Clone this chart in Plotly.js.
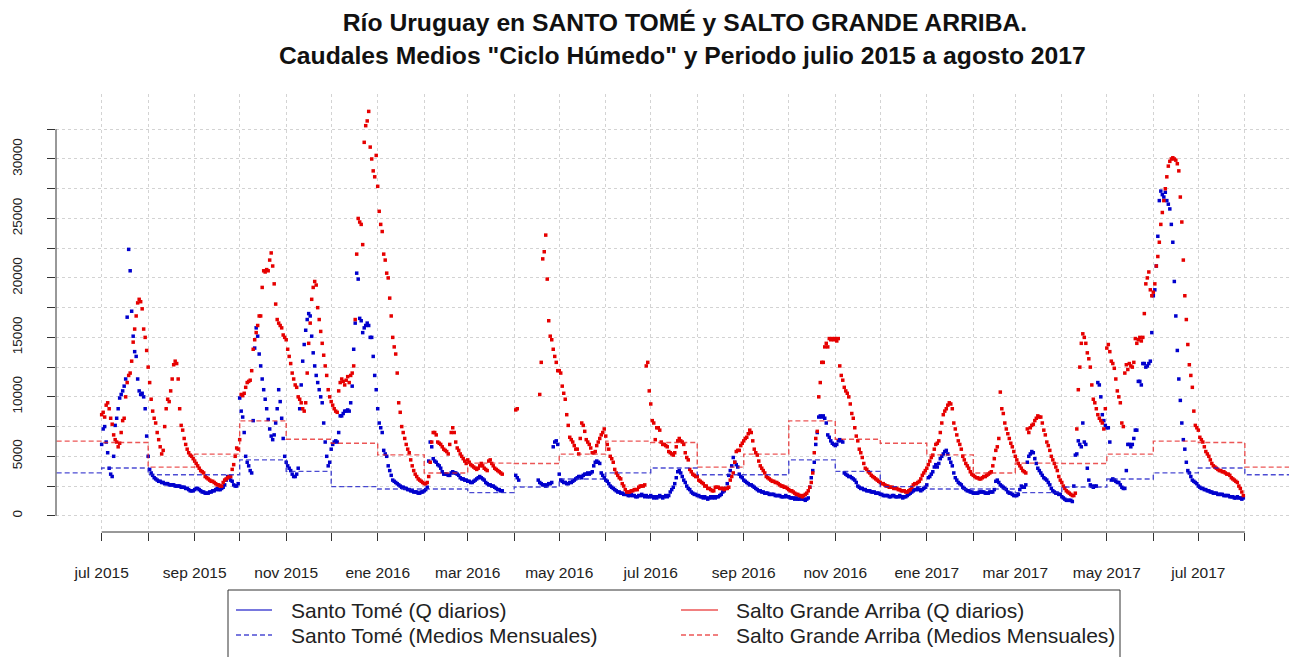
<!DOCTYPE html>
<html><head><meta charset="utf-8">
<script src="https://cdn.plot.ly/plotly-3.0.1.min.js"></script>
<style>html,body{margin:0;padding:0;background:#fff}#chart{width:1293px;height:657px}</style>
</head><body><div id="chart"></div>
<script>
// Daily discharge (m3/s), one value per day starting at startDate
const startDate = '2015-07-01';

const santoTomeQ = [
6000,7300,7500,6200,5300,4000,3500,3300,5000,7600,
8200,9000,9900,10200,10500,10900,11500,16700,22400,20600,
17200,15100,13800,13400,11500,10500,10200,10300,10000,9000,
6700,5000,3900,3600,3400,3200,3100,3000,2900,2900,
2800,2800,2700,2700,2700,2600,2600,2600,2600,2500,
2500,2500,2500,2400,2400,2400,2300,2300,2200,2100,
2100,2100,2200,2300,2300,2200,2100,2000,2000,1900,
1900,1900,2000,2000,2100,2100,2200,2300,2200,2200,
2300,2400,2600,3000,3300,3200,3000,2900,2600,2500,
2500,2700,9900,8800,8300,7000,5000,4500,4200,3800,
3600,8000,14100,15800,15100,13600,12600,11500,10600,9800,
9000,8100,7300,6700,6400,6800,7800,9000,10600,9600,
8200,6500,5000,4500,4200,4000,3800,3500,3300,3300,
3500,4000,9000,11000,13000,14400,15600,16500,17000,16800,
15100,13700,12600,11800,11200,10600,10000,9500,7800,6200,
5000,4200,4500,5600,6000,6200,6300,6200,7000,8400,
8400,8600,8800,8800,8900,8800,9500,10900,14000,16200,
20400,19900,16600,16400,15400,15800,16000,16200,16000,15000,
15000,13400,11800,10600,9000,7800,7400,7000,5500,5200,
5000,4200,3800,3400,3000,2900,2800,2700,2600,2500,
2400,2400,2300,2300,2200,2200,2100,2100,2000,2000,
2000,1900,1900,2000,2000,2100,2200,2400,4600,6200,
5800,4800,4600,4500,4300,4200,4000,3700,3500,3500,
3500,3400,3400,3600,3700,3600,3600,3500,3400,3200,
3100,3100,3000,3000,2900,2900,2800,2800,2900,3000,
3100,3200,3300,3200,3100,3000,2800,2700,2600,2600,
2500,2500,2400,2300,2200,2200,2100,2100,null,null,
null,null,null,null,null,null,3400,3200,3000,null,
null,null,null,null,null,null,null,null,null,null,
null,3000,2800,2700,2600,2600,2500,2600,2700,2700,
2800,5800,6200,6300,6000,3500,3000,2900,2800,2800,
2700,2700,2800,2800,2900,3000,3100,3200,3300,3300,
3200,3400,3500,3500,3600,3500,3600,3700,4200,4500,
4600,4500,4400,3600,3400,3200,3000,2900,2700,2500,
2400,2300,2200,2100,2000,2000,1900,1900,1800,1800,
1800,1700,1700,1800,1700,1700,1600,1600,1700,1700,
1800,1700,1600,1700,1600,1600,1700,1600,1500,1600,
1500,1600,1700,1600,1500,1600,1700,1600,1700,2000,
2200,2400,2700,3200,3700,3800,3600,3300,3000,2800,
2500,2300,2200,2000,1900,1800,1800,1700,1700,1600,
1600,1500,1600,1500,1400,1500,1600,1500,1600,1500,
1600,1600,1700,1800,2000,2100,2300,2700,3400,3800,
4200,4900,4500,4300,4100,3500,3300,3200,3000,2900,
2800,2700,2600,2600,2500,2400,2300,2200,2100,2100,
2000,2000,1900,1900,1900,1800,1800,1800,1800,1700,
1700,1700,1700,1600,1600,1600,1700,1600,1600,1500,
1500,1500,1400,1500,1400,1400,1500,1400,1400,1300,
1400,1500,2400,3200,3800,4500,6000,7000,8300,8400,
8300,8400,8200,7800,6800,6600,6300,6100,6000,5900,
6000,6300,6400,6300,6200,3600,3500,3400,3300,3300,
3200,3100,3000,2800,2500,2400,2300,2300,2200,2200,
2100,2100,2100,2000,2000,2000,1900,1900,1900,1800,
1800,1700,1700,1700,1700,1600,1600,1700,1700,1600,
1600,1600,1700,1600,1500,1600,1600,1700,1800,1900,
2000,2100,2200,2200,2300,2200,2100,2200,2300,2400,
2600,3200,3300,3500,3700,4100,4300,4100,4400,4800,
5000,5200,5400,5500,5200,4800,4500,4200,3600,3200,
3000,2800,2700,2600,2400,2300,2200,2100,2100,2000,
2000,1900,1900,1900,1900,2000,2000,2000,2000,1900,
1900,1900,2000,2000,2000,2200,2900,3000,2800,2600,
2500,2400,2300,2200,2000,1900,1900,1800,1700,1700,
1700,1800,2200,2500,2400,2400,2600,4500,5000,5200,
5400,5300,4800,4400,4000,3800,3600,3400,3200,3100,
3000,2800,2600,2300,2100,2000,1900,1900,1800,1800,
1600,1500,1400,1300,1300,1300,1300,1200,2500,5100,
5200,6300,6000,5800,7800,6200,6000,4000,3000,2600,
2500,2400,2500,2500,11200,11000,10000,8500,8000,7600,
7400,7400,6200,3000,3100,3000,2900,2800,2800,2600,
2400,2300,2300,3800,6000,6000,5800,6000,6500,7200,
7200,11300,11300,11000,12800,12800,12500,12600,12800,13000,
15400,18500,19000,21000,23500,26500,27300,27000,26800,27200,
26500,26200,25800,24500,23000,19700,16800,13900,11500,9700,
7800,6400,5600,4500,3800,3600,3300,3000,2900,2800,
2700,2500,2400,2300,2300,2200,2200,2100,2100,2000,
2000,1900,1900,1900,1800,1800,1800,1800,1700,1700,
1700,1700,1600,1600,1600,1500,1500,1600,1500,1500,
1400,1500
];

const saltoGrandeQ = [
8500,8700,8300,9300,9500,9000,8200,7700,6800,6400,
6200,5800,6100,7000,8000,8200,10000,11200,11800,12000,
13000,14600,15700,16800,17900,18200,18000,17400,15700,15000,
13900,12500,11200,9800,8800,8200,7800,7000,6400,5800,
5200,5500,7500,9000,9800,9600,10500,11500,12700,13000,
12800,11500,9000,7600,7200,6500,6000,5600,5300,5100,
5000,4800,4600,4400,4200,4000,3800,3700,3600,3300,
3200,3100,3000,2900,2900,2800,2700,2600,2600,2500,
2500,2800,3000,3100,3200,3300,3300,3900,4300,5000,
5700,5600,6400,10200,10100,10300,10800,11200,11300,11400,
12200,14000,14800,15400,16000,16800,16800,19200,20600,20500,
20700,20600,21500,22100,21000,19500,17800,16500,16200,16000,
15800,15200,15000,14800,14000,13400,12800,12000,11500,11000,
10800,10000,9800,9500,9000,8800,9500,12000,14500,16200,
18200,19200,19700,19400,17500,16500,15500,14500,13500,12600,
11800,10600,10000,9600,9300,9000,8800,8700,10500,11200,
11500,11300,11000,11400,11700,11200,11800,12000,12600,16500,
22000,25000,24700,24500,22800,31400,32800,33200,34000,31000,
30000,29000,28500,30300,27700,25600,24500,23900,22000,21500,
20400,20000,18300,16800,15000,14200,13600,12000,9500,8700,
7500,7000,6500,6000,5600,5300,4700,4200,3800,3500,
3300,3100,3000,2900,2800,2700,2700,2800,3300,4500,
6200,7000,7000,6800,6200,6100,6000,5800,5600,5500,
5400,5200,6000,7000,7400,7000,6200,5700,5500,5200,
5000,4800,4600,4400,4700,4500,4300,4200,4100,4000,
3900,4000,4200,4400,4200,4000,3900,3800,4600,4700,
4400,4200,4000,3900,3800,3700,3600,3500,null,null,
null,null,null,null,null,null,8900,9000,null,null,
null,null,null,null,null,null,null,null,null,null,
null,null,10200,12900,21600,22200,23600,19900,16400,15100,
14800,14000,13400,12900,12200,12200,12000,10900,10300,9800,
8500,7600,6600,6400,6200,5900,5600,5600,5200,6500,
7800,7600,7100,6400,6200,6000,5700,5300,5300,5400,
5900,6200,6500,6800,7000,7300,6700,6000,5600,5000,
4800,4500,3900,3600,3400,3200,3100,2700,2500,2200,
2000,2000,2000,2100,2100,2200,2200,2200,2400,2500,
2500,2500,2600,12600,12900,10500,9400,8000,7800,6400,
7400,7400,7200,6200,6000,6000,5900,5800,5400,5300,
5200,5100,5300,5800,6300,6500,6300,6200,6000,5300,
4900,4700,3900,3700,3500,3400,3300,3300,3000,2900,
2800,2700,2500,2500,2300,2300,2200,2100,2100,2400,
2400,2400,2300,2300,2300,2200,2300,2300,2400,3000,
3300,3600,4500,5400,5500,5500,5900,6100,6300,6500,
6600,6900,7200,7000,6300,5600,5300,5100,4600,4200,
4000,3800,3600,3300,3200,3100,3000,2900,2900,2800,
2800,2700,2600,2500,2500,2400,2400,2300,2200,2100,
2100,2000,1900,1800,1800,1700,1700,1600,1700,1800,
1900,2100,2400,2800,3600,5300,6500,7100,10000,11200,
12900,12900,14200,14500,14200,14900,14800,14900,14800,14900,
14700,14900,12600,11800,11400,10800,10500,10300,10000,9400,
8600,8200,7400,6700,6300,5600,5300,4900,4400,4000,
3900,3700,3600,3400,3300,3200,3100,3000,2900,2800,
2700,2700,2600,2500,2500,2400,2400,2400,2300,2300,
2300,2200,2200,2100,2100,2100,2000,2000,2100,2200,
2400,2600,2700,2700,2800,2900,3100,3400,3600,3800,
4000,4300,4600,4900,5100,5600,6000,6100,6300,7000,
7800,8500,8800,9000,9300,9500,9400,9000,7800,7300,
6800,6300,6000,5600,5000,4700,4400,4200,4000,3700,
3500,3400,3300,3200,3200,3100,3100,3200,3300,3300,
3400,3500,3600,3700,4200,4800,5500,5800,6500,10400,
9000,8600,7800,7300,6900,6500,6100,5800,5400,5000,
4700,4400,4200,4000,3800,3700,3600,7300,7000,7400,
7600,7700,8000,8200,8400,8300,8300,7800,7200,6800,
6200,5900,5500,5000,4700,4400,4100,3800,3300,3000,
2800,2500,2300,2100,2000,1900,1800,1700,1700,1900,
7300,10600,12500,14500,15300,15000,14500,13700,13200,12500,
11000,9800,9500,9000,8500,8200,8000,7800,7300,9000,
14100,14400,13800,13000,12800,12400,11500,10500,10000,9500,
7800,7500,12000,12700,12300,12800,12600,12500,12900,14900,
14500,14800,15000,14700,15000,17000,19500,20000,20500,19000,
18500,18800,19500,21000,21800,23000,24500,25500,26500,27500,
28500,29400,29800,30000,30100,30000,29900,29600,29000,26800,
24700,21500,18500,16500,14400,12700,11800,10800,8800,7600,
7400,7200,6600,6400,6200,5800,5400,5200,5000,4700,
4400,4200,4100,4000,3900,3800,3800,3700,3700,3600,
3500,3500,3400,3200,3100,3000,2900,2800,2500,2300,
2000,1700
];

// Monthly means "Ciclo Húmedo", Jan..Dec (m3/s)
const santoTomeMensual   = [2250, 2250, 1950, 2420, 3090, 3610, 4020, 3445, 3445, 4700, 3730, 2450];
const saltoGrandeMensual = [5120, 3600, 4430, 4400, 5180, 6280, 6160, 4090, 5180, 7980, 6440, 6100];
const monthStarts = ['2015-06-01','2015-07-01','2015-08-01','2015-09-01','2015-10-01','2015-11-01','2015-12-01',
  '2016-01-01','2016-02-01','2016-03-01','2016-04-01','2016-05-01','2016-06-01','2016-07-01','2016-08-01','2016-09-01','2016-10-01','2016-11-01','2016-12-01',
  '2017-01-01','2017-02-01','2017-03-01','2017-04-01','2017-05-01','2017-06-01','2017-07-01','2017-08-01','2017-09-01'];

// Axis ticks
const tickDates = ['2015-07-01','2015-08-01','2015-09-01','2015-10-01','2015-11-01','2015-12-01',
  '2016-01-01','2016-02-01','2016-03-01','2016-04-01','2016-05-01','2016-06-01','2016-07-01','2016-08-01','2016-09-01','2016-10-01','2016-11-01','2016-12-01',
  '2017-01-01','2017-02-01','2017-03-01','2017-04-01','2017-05-01','2017-06-01','2017-07-01','2017-08-01'];
const tickLabels = ['jul 2015','','sep 2015','','nov 2015','','ene 2016','','mar 2016','','may 2016','',
  'jul 2016','','sep 2016','','nov 2016','','ene 2017','','mar 2017','','may 2017','','jul 2017',''];
const yTickVals = [0,2500,5000,7500,10000,12500,15000,17500,20000,22500,25000,27500,30000,32500];
const yTickLabels = ['0','','5000','','10000','','15000','','20000','','25000','','30000',''];

const titleLine1 = 'Río Uruguay en SANTO TOMÉ y SALTO GRANDE ARRIBA.';
const titleLine2 = 'Caudales Medios "Ciclo Húmedo" y Periodo julio 2015 a agosto 2017';
const legendNames = ['Santo Tomé (Q diarios)', 'Salto Grande Arriba (Q diarios)',
                     'Santo Tomé (Medios Mensuales)', 'Salto Grande Arriba (Medios Mensuales)'];

const BLUE = '#0000CD', RED = '#E60000';
const BLUE_L = 'rgba(30,30,200,0.8)', RED_L = 'rgba(230,30,30,0.75)';

function dayDates(n) {
  const t0 = Date.parse(startDate + 'T00:00:00Z');
  const out = [];
  for (let i = 0; i < n; i++) out.push(new Date(t0 + i * 86400000).toISOString().slice(0, 10));
  return out;
}
const stDates = dayDates(santoTomeQ.length);
const sgDates = dayDates(saltoGrandeQ.length);
const monthOf = d => parseInt(d.slice(5, 7), 10) - 1;

const traces = [
  {type:'scatter', mode:'markers', x: stDates, y: santoTomeQ, name: legendNames[0],
   marker:{symbol:'square', size:3.5, color:BLUE}, hoverinfo:'skip'},
  {type:'scatter', mode:'markers', x: sgDates, y: saltoGrandeQ, name: legendNames[1],
   marker:{symbol:'square', size:3.5, color:RED}, hoverinfo:'skip'},
  {type:'scatter', mode:'lines', x: monthStarts, y: monthStarts.map(d => santoTomeMensual[monthOf(d)]),
   name: legendNames[2], line:{shape:'hv', color:BLUE_L, width:1.4, dash:'5px,3px'}, hoverinfo:'skip'},
  {type:'scatter', mode:'lines', x: monthStarts, y: monthStarts.map(d => saltoGrandeMensual[monthOf(d)]),
   name: legendNames[3], line:{shape:'hv', color:RED_L, width:1.4, dash:'5px,3px'}, hoverinfo:'skip'}
];

// pixel helpers for legend/title placement (plot area 56..1289 x 94..532)
const L = 56, R = 4, T = 94, B = 125, W = 1293, H = 657;
const PW = W - L - R, PH = H - T - B;
const xp = px => (px - L) / PW;
const yp = py => (H - B - py) / PH;

const legRow1 = 610, legRow2 = 635;
const shapes = [
  // R-style axis lines spanning first..last tick only
  {type:'line', xref:'paper', yref:'y', x0:0, x1:0, y0:yTickVals[0], y1:yTickVals[yTickVals.length-1], line:{color:'#333', width:1}},
  {type:'line', xref:'x', yref:'paper', x0:tickDates[0], x1:tickDates[tickDates.length-1], y0:0, y1:0, line:{color:'#333', width:1}},
  // legend box
  {type:'rect', xref:'paper', yref:'paper', x0:xp(228), x1:xp(1120), y0:yp(590), y1:yp(680), line:{color:'#333', width:1}, fillcolor:'rgba(0,0,0,0)'},
  {type:'line', xref:'paper', yref:'paper', x0:xp(236), x1:xp(272), y0:yp(legRow1), y1:yp(legRow1), line:{color:BLUE_L, width:1.4}},
  {type:'line', xref:'paper', yref:'paper', x0:xp(236), x1:xp(272), y0:yp(legRow2), y1:yp(legRow2), line:{color:BLUE_L, width:1.4, dash:'5px,3px'}},
  {type:'line', xref:'paper', yref:'paper', x0:xp(681), x1:xp(718), y0:yp(legRow1), y1:yp(legRow1), line:{color:RED_L, width:1.4}},
  {type:'line', xref:'paper', yref:'paper', x0:xp(681), x1:xp(718), y0:yp(legRow2), y1:yp(legRow2), line:{color:RED_L, width:1.4, dash:'5px,3px'}}
];
const legFont = {family:'Liberation Sans, Arial, sans-serif', size:21, color:'#222'};
const titleFont = {family:'Liberation Sans, Arial, sans-serif', size:24.7, color:'#111'};
const annotations = [
  {xref:'paper', yref:'paper', x:xp(682), y:yp(55), xanchor:'center', yanchor:'middle', text:'<b>' + titleLine2 + '</b>', showarrow:false, font:titleFont},
  {xref:'paper', yref:'paper', x:xp(289), y:yp(legRow1), xanchor:'left', yanchor:'middle', text:legendNames[0], showarrow:false, font:legFont},
  {xref:'paper', yref:'paper', x:xp(734), y:yp(legRow1), xanchor:'left', yanchor:'middle', text:legendNames[1], showarrow:false, font:legFont},
  {xref:'paper', yref:'paper', x:xp(289), y:yp(legRow2), xanchor:'left', yanchor:'middle', text:legendNames[2], showarrow:false, font:legFont},
  {xref:'paper', yref:'paper', x:xp(734), y:yp(legRow2), xanchor:'left', yanchor:'middle', text:legendNames[3], showarrow:false, font:legFont}
];

const layout = {
  width: W, height: H,
  margin: {l:L, r:R, t:T, b:B, pad:0},
  paper_bgcolor:'#ffffff', plot_bgcolor:'#ffffff',
  showlegend:false,
  font:{family:'Liberation Sans, Arial, sans-serif', color:'#222'},
  title:{text:'<b>' + titleLine1 + '</b>',
         xref:'container', x:685/W, xanchor:'center',
         yref:'container', y:1 - 22/H, yanchor:'middle',
         font:titleFont},
  xaxis:{type:'date', range:['2015-05-31 13:26', '2017-08-30 10:34'],
         tickmode:'array', tickvals:tickDates, ticktext:tickLabels,
         ticks:'outside', ticklen:8, tickwidth:1, tickcolor:'#333',
         showline:false, zeroline:false,
         showgrid:true, gridcolor:'#d3d3d3', griddash:'dot', gridwidth:1,
         tickfont:{size:15.5, color:'#222'}, ticklabelstandoff:18, automargin:false, fixedrange:true},
  yaxis:{range:[-1364, 35464], tickmode:'array', tickvals:yTickVals, ticktext:yTickLabels,
         tickangle:-90, ticks:'outside', ticklen:8, tickwidth:1, tickcolor:'#333',
         showline:false, zeroline:false,
         showgrid:true, gridcolor:'#d3d3d3', griddash:'dot', gridwidth:1,
         tickfont:{size:13.5, color:'#222'}, ticklabelstandoff:20, automargin:false, fixedrange:true},
  shapes: shapes,
  annotations: annotations
};

Plotly.newPlot('chart', traces, layout, {displayModeBar:false, staticPlot:true});
</script>
</body></html>
